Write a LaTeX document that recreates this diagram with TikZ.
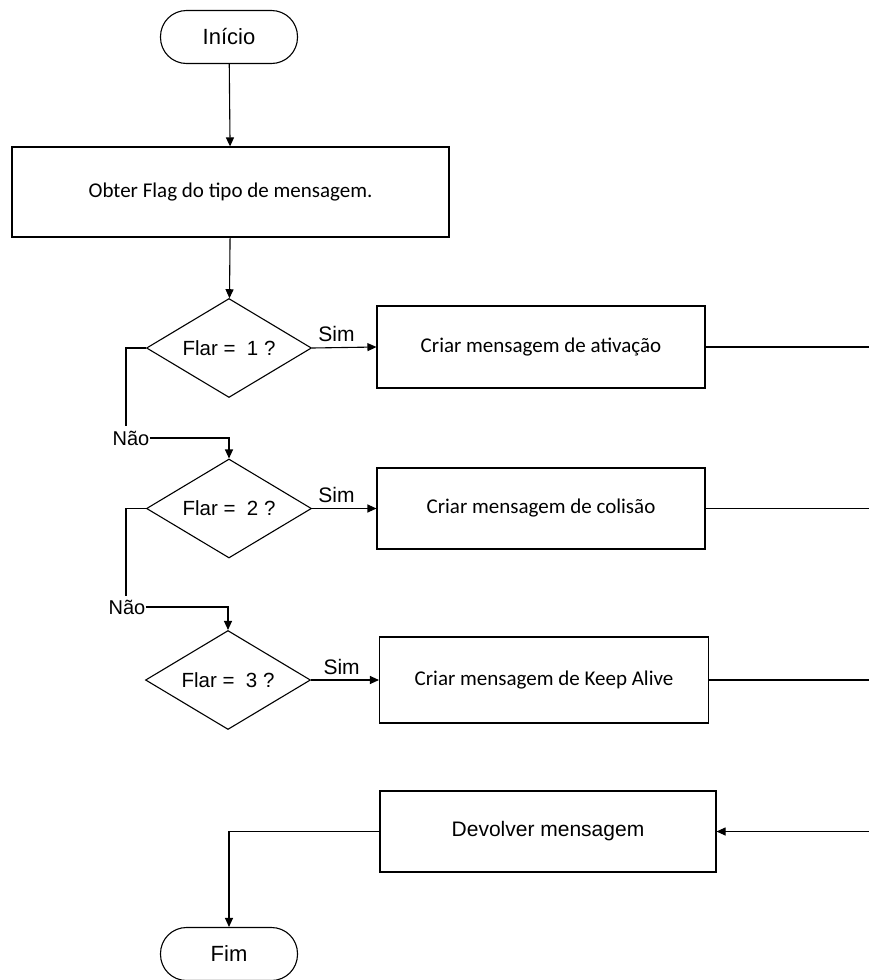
\documentclass[tikz,border=0pt]{standalone}
\usepackage{fontspec}
\setmainfont{Liberation Sans}
\newfontfamily\calibri{Carlito}
\usetikzlibrary{shapes.geometric,arrows.meta}
\begin{document}
\begin{tikzpicture}[x=1pt,y=-1pt,
  every node/.style={inner sep=0pt},
  line/.style={draw=black,line width=1.1pt},
  arr/.style={line,-{Triangle[length=9pt,width=8pt]}},
  terminal/.style={draw,line width=1.1pt,rounded corners=26pt,minimum width=137pt,minimum height=53pt,font=\fontsize{22}{26}\selectfont},
  procbox/.style={draw,line width=1.1pt,font=\calibri\fontsize{21}{25}\selectfont},
  procarial/.style={draw,line width=1.1pt,font=\fontsize{21}{25}\selectfont},
  decision/.style={draw,line width=1.1pt,diamond,aspect=1.667,minimum width=165pt,minimum height=99pt,font=\fontsize{20.5}{24}\selectfont},
  lbl/.style={font=\fontsize{21}{25}\selectfont},
  nolbl/.style={font=\fontsize{20}{24}\selectfont}
]
\useasboundingbox (0,0) rectangle (868,980);

% start / end
\node[terminal] (start) at (229,37) {Início};
\node[terminal] (stop) at (229,954) {Fim};

% steps
\node[procbox,minimum width=437pt,minimum height=90pt] (flag) at (230.5,192) {Obter Flag do tipo de mensagem.};
\node[procbox,minimum width=328pt,minimum height=82pt] (m1) at (541,347) {Criar mensagem de ativação};
\node[procbox,minimum width=328pt,minimum height=81pt] (m2) at (541,508.5) {Criar mensagem de colisão};
\node[procbox,minimum width=329pt,minimum height=86pt] (m3) at (544,680) {Criar mensagem de Keep Alive};
\node[procarial,minimum width=336pt,minimum height=81pt] (ret) at (548,831.5) {Devolver mensagem};

% decisions
\node[decision] (d1) at (229,348) {Flar = \ 1 ?};
\node[decision] (d2) at (229,508.5) {Flar = \ 2 ?};
\node[decision] (d3) at (228,680) {Flar = \ 3 ?};

% labels on the "no" branches
\node[nolbl] (no1) at (131,438) {Não};
\node[nolbl] (no2) at (127,607) {Não};

% right-hand collector (just past the right edge)
\coordinate (bus) at (871,0);
\coordinate (r4) at (871,831.5);

% main flow
\draw[arr] (start) -- (flag);
\draw[arr] (flag) -- (d1);

% yes branches
\draw[arr] (d1.east) -- node[lbl,above=5pt,pos=0.38] (s1) {Sim} (m1.west);
\draw[arr] (d2.east) -- node[lbl,above=5pt,pos=0.38] (s2) {Sim} (m2.west);
\draw[arr] (d3.east) -- node[lbl,above=5pt,pos=0.45] (s3) {Sim} (m3.west);

% no branches
\draw[line] (d1.west) -- (126,348) -- (126,426);
\draw[arr] (no1.east) -- (229,438) -- (d2.north);
\draw[line] (d2.west) -- (126,508.5) -- (126,596);
\draw[arr] (no2.east) -- (228,607) -- (d3.north);

% collect the messages and return
\draw[line] (m1.east) -- (m1.east -| bus) -- (r4);
\draw[line] (m2.east) -- (m2.east -| bus);
\draw[line] (m3.east) -- (m3.east -| bus);
\draw[arr] (r4) -- (ret.east);
\draw[arr] (ret.west) -- (229,831.5) -- (stop.north);
\end{tikzpicture}
\end{document}
